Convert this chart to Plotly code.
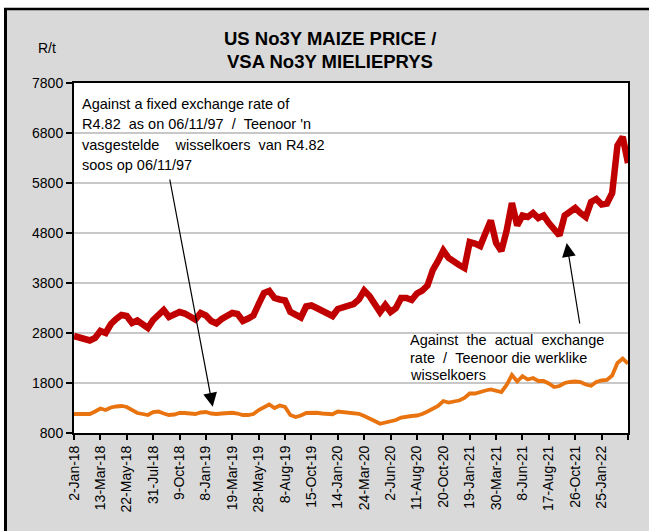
import plotly.graph_objects as go

# ---------------- data ----------------
tick_labels = ["2-Jan-18", "13-Mar-18", "22-May-18", "31-Jul-18", "9-Oct-18", "8-Jan-19",
               "19-Mar-19", "28-May-19", "8-Aug-19", "15-Oct-19", "14-Jan-20", "24-Mar-20",
               "2-Jun-20", "11-Aug-20", "20-Oct-20", "19-Jan-21", "30-Mar-21", "8-Jun-21",
               "17-Aug-21", "26-Oct-21", "25-Jan-22"]
days_per_tick = 50      # trading days between labelled ticks
sample_step = 10        # trading days between samples

fixed_rate_price = [  # R/t, against fixed exchange rate (orange)
    1180, 1180, 1180, 1180, 1230, 1290, 1260, 1310, 1330, 1340,
    1320, 1270, 1200, 1180, 1160, 1220, 1230, 1190, 1160, 1170,
    1200, 1200, 1190, 1180, 1210, 1220, 1190, 1180, 1190, 1195,
    1205, 1190, 1160, 1160, 1180, 1260, 1320, 1370, 1300, 1350,
    1320, 1160, 1120, 1150, 1200, 1210, 1205, 1190, 1175, 1175,
    1230, 1220, 1205, 1200, 1185, 1140, 1100, 1040, 985, 1005,
    1030, 1060, 1110, 1130, 1140, 1150, 1180, 1230, 1280, 1340,
    1440, 1410, 1430, 1450, 1500, 1590, 1590, 1625, 1650, 1670,
    1640, 1620, 1760, 1960, 1830, 1935, 1870, 1900, 1840, 1840,
    1790, 1720, 1740, 1800, 1820, 1830, 1820, 1770, 1745, 1820,
    1850, 1860, 1950, 2200, 2290, 2190]

actual_rate_price = [  # R/t, against actual exchange rate (red)
    2740, 2700, 2670, 2650, 2700, 2840, 2800, 2980, 3080, 3160,
    3140, 3000, 3050, 2960, 2900, 3060, 3180, 3260, 3120, 3180,
    3220, 3190, 3130, 3070, 3200, 3150, 3040, 2990, 3080, 3160,
    3200, 3180, 3040, 3090, 3150, 3380, 3600, 3640, 3500, 3470,
    3450, 3220, 3150, 3110, 3330, 3350, 3300, 3240, 3190, 3140,
    3280, 3320, 3340, 3380, 3470, 3650, 3540, 3350, 3220, 3360,
    3220, 3300, 3500, 3500, 3460, 3590, 3650, 3750, 4060, 4240,
    4450, 4300, 4210, 4160, 4100, 4620, 4590, 4540, 4800, 5050,
    4600, 4440, 4850, 5400, 4950, 5150, 5120, 5200, 5100, 5150,
    5000, 4850, 4750, 5150, 5210, 5300, 5200, 5120, 5420, 5480,
    5370, 5390, 5600, 6550, 6720, 6200]

y_min, y_max, y_step = 800, 7800, 1000

# ---------------- layout helpers ----------------
W, H = 649, 531
L, R, T, B = 74, 628, 83, 433


def px(x):
    return (x - L) / (R - L)


def py(y):
    return (B - y) / (B - T)


TXT = "Liberation Sans, Arial, sans-serif"
BOLD = "Liberation Sans, Arial, sans-serif"
FS = 14

day_index = [i * sample_step for i in range(len(actual_rate_price))]
n_ticks = len(tick_labels) + 1
tick_vals = [i * days_per_tick for i in range(n_ticks)]
tick_text = tick_labels + [""]

fig = go.Figure()
fig.add_trace(go.Scatter(x=day_index, y=fixed_rate_price, mode="lines",
                         line=dict(color="#E8730F", width=3.8), showlegend=False,
                         hoverinfo="skip"))
fig.add_trace(go.Scatter(x=day_index, y=actual_rate_price, mode="lines",
                         line=dict(color="#C00000", width=6.5), showlegend=False,
                         hoverinfo="skip"))

fig.update_layout(
    width=W, height=H, autosize=False,
    margin=dict(l=L, r=W - R, t=T, b=H - B, pad=0),
    paper_bgcolor="#D9D9D9", plot_bgcolor="white",
    font=dict(family=TXT, size=FS, color="black"),
)
fig.update_xaxes(range=[0, tick_vals[-1]], tickmode="array", tickvals=tick_vals,
                 ticktext=tick_text, tickangle=-90, ticks="outside", ticklen=5,
                 tickwidth=1.5, tickcolor="black", showgrid=False, zeroline=False,
                 showline=True, linecolor="black", linewidth=2, mirror=True,
                 tickfont=dict(family=TXT, size=FS))
fig.update_yaxes(range=[y_min, y_max], tickmode="linear", tick0=y_min, dtick=y_step,
                 ticks="outside", ticklen=6, tickwidth=1.5, tickcolor="black",
                 showgrid=True, gridcolor="#C8C8C8", gridwidth=1.5, zeroline=False,
                 showline=True, linecolor="black", linewidth=2, mirror=True,
                 tickfont=dict(family=TXT, size=FS))

shapes = [
    dict(type="rect", xref="paper", yref="paper", x0=px(0), x1=px(W), y0=py(8), y1=py(0),
         fillcolor="white", line=dict(width=0), layer="below"),
    dict(type="rect", xref="paper", yref="paper", x0=px(0), x1=px(4), y0=py(H), y1=py(0),
         fillcolor="white", line=dict(width=0), layer="below"),
    dict(type="line", xref="paper", yref="paper", x0=px(5.5), x1=px(5.5), y0=py(H), y1=py(8.5),
         line=dict(color="black", width=3)),
    dict(type="line", xref="paper", yref="paper", x0=px(4), x1=px(W), y0=py(9), y1=py(9),
         line=dict(color="black", width=2.5)),
]
fig.update_layout(shapes=shapes)

ann = []
# title
ann.append(dict(text="<b>US No3Y MAIZE PRICE /</b>", x=px(330), y=py(38), xref="paper", yref="paper",
                xanchor="center", yanchor="middle", showarrow=False,
                font=dict(family=BOLD, size=18.5)))
ann.append(dict(text="<b>VSA No3Y MIELIEPRYS</b>", x=px(330), y=py(62), xref="paper", yref="paper",
                xanchor="center", yanchor="middle", showarrow=False,
                font=dict(family=BOLD, size=18.5)))
ann.append(dict(text="R/t", x=px(58), y=py(48), xref="paper", yref="paper",
                xanchor="right", yanchor="middle", showarrow=False, font=dict(size=FS)))

nb = "\u00a0"
note1 = ["Against a fixed exchange rate of",
         f"R4.82{nb}{nb}as on 06/11/97{nb}{nb}/{nb}{nb}Teenoor 'n",
         f"vasgestelde{nb}{nb}{nb}{nb}wisselkoers{nb}{nb}van R4.82",
         "soos op 06/11/97"]
for i, line in enumerate(note1):
    ann.append(dict(text=line, x=px(80), y=py(104 + 20.3 * i), xref="paper", yref="paper",
                    xanchor="left", yanchor="middle", showarrow=False, font=dict(size=14.5)))

note2 = [f"Against{nb}{nb}the{nb}{nb}actual{nb}{nb}exchange",
         f"rate{nb}{nb}/{nb}{nb}Teenoor die werklike",
         "wisselkoers"]
for i, line in enumerate(note2):
    ann.append(dict(text=line, x=px(408), y=py(340 + 17.5 * i), xref="paper", yref="paper",
                    xanchor="left", yanchor="middle", showarrow=False, font=dict(size=14.5)))

# arrows
ann.append(dict(text="", x=px(212.7), y=py(406.7), xref="paper", yref="paper",
                showarrow=True, arrowhead=2, arrowsize=2.3, arrowwidth=1.2, arrowcolor="black",
                ax=169.5 - 212.7, ay=178 - 406.7, axref="pixel", ayref="pixel", standoff=0))
ann.append(dict(text="", x=px(566.7), y=py(243), xref="paper", yref="paper",
                showarrow=True, arrowhead=2, arrowsize=2.3, arrowwidth=1.2, arrowcolor="black",
                ax=580 - 566.7, ay=325 - 243, axref="pixel", ayref="pixel", standoff=0))
fig.update_layout(annotations=ann)

fig.write_html("out.html", config={"displayModeBar": False},
               post_script="document.body.style.margin='0';document.body.style.padding='0';")
